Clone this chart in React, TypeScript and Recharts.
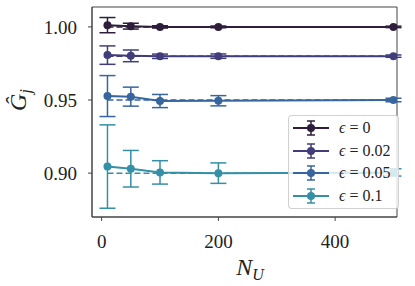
import React from "react";
import { ErrorBar, Line, LineChart, XAxis, YAxis, Label, ReferenceArea } from "recharts";

const nU = [10, 50, 100, 200, 500];

const epsLabels = ["0", "0.02", "0.05", "0.1"];
const colors = ["#2e1e3b", "#413d7b", "#37659e", "#348fa7"];
const targets = [1.0, 0.98, 0.95, 0.9];

const gEps0 = [1.0012, 1.0005, 1.0, 1.0, 1.0];
const gEps002 = [0.9807, 0.9802, 0.9799, 0.98, 0.98];
const gEps005 = [0.9527, 0.9523, 0.9493, 0.9495, 0.95];
const gEps01 = [0.9045, 0.903, 0.9005, 0.9, 0.9005];

const errEps0 = [0.0052, 0.002, 0.0008, 0.0006, 0.0005];
const errEps002 = [0.0063, 0.004, 0.0015, 0.0015, 0.0008];
const errEps005 = [0.014, 0.0065, 0.0045, 0.0035, 0.0012];
const errEps01 = [0.0285, 0.0125, 0.008, 0.007, 0.0025];

const values = [gEps0, gEps002, gEps005, gEps01];
const errors = [errEps0, errEps002, errEps005, errEps01];

const xTicks = [0, 200, 400];
const yTicks = [0.9, 0.95, 1.0];
const xDomain = [-16.5, 506];
const yDomain = [0.87, 1.0136];

const data = nU.map((n, i) => {
  const row: Record<string, number> = { n };
  values.forEach((v, s) => {
    row[`g${s}`] = v[i];
    row[`e${s}`] = errors[s][i];
    row[`t${s}`] = targets[s];
  });
  return row;
});

const serif = "'Liberation Serif', 'DejaVu Serif', serif";

const CustomLegend = () => (
  <div
    style={{
      position: "absolute",
      left: 288,
      top: 115,
      width: 111,
      height: 94,
      border: "1px solid rgba(204,204,204,0.9)",
      borderRadius: 4,
      background: "rgba(255,255,255,0.8)",
      boxSizing: "border-box",
      paddingTop: 1,
    }}
  >
    {epsLabels.map((lab, i) => (
      <div key={lab} style={{ display: "flex", alignItems: "center", height: 22.5 }}>
        <svg width={50} height={22}>
          <line x1={4} x2={40} y1={11} y2={11} stroke={colors[i]} strokeWidth={2} />
          <line x1={22} x2={22} y1={4} y2={18} stroke={colors[i]} strokeWidth={1.5} />
          <line x1={18} x2={26} y1={4} y2={4} stroke={colors[i]} strokeWidth={1.5} />
          <line x1={18} x2={26} y1={18} y2={18} stroke={colors[i]} strokeWidth={1.5} />
          <circle cx={22} cy={11} r={4} fill={colors[i]} />
        </svg>
        <span style={{ fontFamily: serif, fontSize: 16, color: "#222", whiteSpace: "nowrap" }}>
          <i>ϵ</i> = {lab}
        </span>
      </div>
    ))}
  </div>
);

const App = () => {
  return (
    <div style={{ position: "absolute", left: 0, top: 0, width: 415, height: 286, background: "#fff" }}>
      <LineChart width={415} height={286} data={data} margin={{ top: 7, right: 18, left: 0, bottom: 0 }}>
        <XAxis
          dataKey="n"
          type="number"
          domain={xDomain}
          ticks={xTicks}
          allowDataOverflow
          height={69}
          stroke="#444"
          tickSize={4}
          tickMargin={14}
          tick={{ fontSize: 19, fontFamily: serif, fill: "#222" }}
        >
          <Label
            content={() => (
              <text x={250} y={275} textAnchor="middle" fontFamily={serif} fontSize={24} fontStyle="italic" fill="#222">
                N
                <tspan fontSize={16} dy={5}>U</tspan>
              </text>
            )}
          />
        </XAxis>
        <YAxis
          type="number"
          domain={yDomain}
          ticks={yTicks}
          allowDataOverflow
          width={92}
          stroke="#444"
          tickSize={4}
          tickMargin={11}
          tickFormatter={(v: number) => v.toFixed(2)}
          tick={{ fontSize: 19, fontFamily: serif, fill: "#222" }}
        >
          <Label
            content={() => (
              <text
                x={26}
                y={100}
                transform="rotate(-90 26 100)"
                textAnchor="middle"
                fontFamily={serif}
                fontSize={24}
                fontStyle="italic"
                fill="#222"
              >
                Ĝ
                <tspan fontSize={16} dy={5}>j</tspan>
              </text>
            )}
          />
        </YAxis>
        <ReferenceArea
          x1={xDomain[0]}
          x2={xDomain[1]}
          y1={yDomain[0]}
          y2={yDomain[1]}
          fill="none"
          stroke="#444"
          strokeWidth={1}
          ifOverflow="visible"
        />
        {epsLabels.map((lab, s) => (
          <Line
            key={`t${s}`}
            dataKey={`t${s}`}
            stroke={colors[s]}
            strokeWidth={1.5}
            strokeDasharray="6 3"
            dot={false}
            activeDot={false}
            isAnimationActive={false}
            legendType="none"
          />
        ))}
        {epsLabels.map((lab, s) => (
          <Line
            key={`g${s}`}
            dataKey={`g${s}`}
            name={`ϵ = ${lab}`}
            stroke={colors[s]}
            strokeWidth={2}
            dot={{ r: 4, fill: colors[s], stroke: colors[s], strokeWidth: 0 }}
            activeDot={false}
            isAnimationActive={false}
          >
            <ErrorBar dataKey={`e${s}`} direction="y" width={8} strokeWidth={1.5} stroke={colors[s]} />
          </Line>
        ))}
      </LineChart>
      <CustomLegend />
    </div>
  );
};

export default App;
